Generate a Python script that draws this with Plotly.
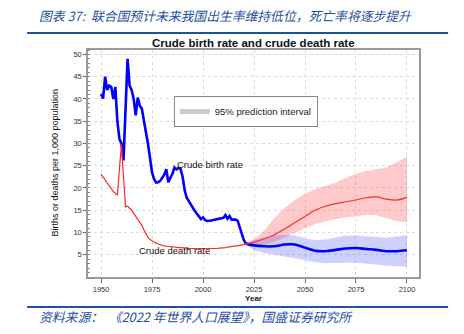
import plotly.graph_objects as go

# ---------------- data ----------------
hist_years = list(range(1950, 2022))
birth_hist = [41.1, 40.1, 45.0, 42.0, 43.0, 42.7, 40.0, 42.7, 35.0, 31.0,
              30.0, 26.2, 37.6, 49.0, 43.0, 42.0, 40.0, 36.3, 40.3, 38.5,
              37.8, 34.8, 32.5, 30.0, 27.0, 23.5, 22.0, 21.2, 21.3, 21.6,
              22.3, 23.0, 24.2, 21.3, 22.3, 23.2, 24.6, 24.2, 24.5, 24.3,
              22.5, 19.5, 17.8, 17.0, 16.2, 15.5, 14.8, 14.2, 13.5, 13.0,
              13.4, 12.8, 12.6, 12.6, 12.7, 12.8, 12.9, 13.0, 13.1, 13.1,
              13.3, 13.9, 13.1, 13.7, 12.9, 12.9, 12.9, 12.6, 11.0, 9.6,
              8.3, 7.5]
death_hist = [23.1, 22.4, 21.7, 21.1, 20.5, 19.8, 19.2, 18.8, 18.4, 24.2,
              29.8, 22.5, 15.8, 15.9, 15.5, 15.0, 14.3, 13.6, 12.9, 12.4,
              11.6, 10.6, 9.7, 8.9, 8.4, 8.1, 7.8, 7.6, 7.4, 7.2,
              7.1, 7.0, 6.9, 6.9, 6.8, 6.8, 6.7, 6.7, 6.6, 6.6,
              6.6, 6.5, 6.5, 6.4, 6.4, 6.4, 6.3, 6.3, 6.3, 6.3,
              6.3, 6.3, 6.3, 6.3, 6.3, 6.3, 6.4, 6.4, 6.5, 6.5,
              6.6, 6.6, 6.7, 6.8, 6.8, 6.9, 7.0, 7.0, 7.1, 7.2,
              7.3, 7.4]

proj_years = [2021, 2025, 2030, 2035, 2040, 2045, 2050, 2055, 2060, 2065,
              2070, 2075, 2080, 2085, 2090, 2095, 2100]
birth_med = [7.5, 7.1, 6.9, 6.9, 7.3, 7.3, 6.6, 5.9, 5.8, 6.1,
             6.4, 6.5, 6.3, 6.1, 5.8, 5.8, 6.0]
birth_hi = [7.6, 8.3, 8.8, 9.3, 9.5, 9.3, 8.7, 8.3, 8.4, 8.9,
            9.3, 9.3, 9.1, 8.9, 8.8, 9.1, 9.4]
birth_lo = [7.4, 6.0, 5.4, 5.0, 4.6, 4.2, 3.8, 3.3, 3.1, 3.2,
            3.2, 3.2, 3.0, 2.8, 2.5, 2.4, 2.3]
death_med = [7.4, 7.8, 8.6, 9.5, 10.8, 12.2, 13.6, 15.0, 15.9, 16.5,
             16.9, 17.3, 17.8, 18.0, 17.5, 17.3, 17.9]
death_hi = [7.5, 8.5, 10.5, 13.2, 15.5, 17.3, 18.7, 19.7, 20.5, 21.2,
            22.3, 23.2, 23.8, 24.2, 24.6, 25.8, 27.0]
death_lo = [7.3, 7.2, 7.3, 7.9, 8.9, 10.0, 10.9, 11.9, 12.5, 13.0,
            13.4, 13.6, 14.0, 13.9, 13.2, 12.6, 12.3]

title = "Crude birth rate and crude death rate"
header = "图表 37:  联合国预计未来我国出生率维持低位，死亡率将逐步提升"
footer = "资料来源：  《2022 年世界人口展望》，国盛证券研究所"

# ---------------- figure ----------------
BLUE = "#0000FF"
RED = "#FF2A2A"
HEAD = "#1E4FA0"
FONT = "Liberation Sans, Arial, sans-serif"
CJK = "Noto Sans CJK SC, sans-serif"

fig = go.Figure()

# red band
fig.add_trace(go.Scatter(x=proj_years + proj_years[::-1], y=death_hi + death_lo[::-1],
                         fill="toself", fillcolor="rgba(255,60,60,0.27)",
                         line=dict(width=0), mode="lines", showlegend=False,
                         hoverinfo="skip"))
# blue band
fig.add_trace(go.Scatter(x=proj_years + proj_years[::-1], y=birth_hi + birth_lo[::-1],
                         fill="toself", fillcolor="rgba(40,40,255,0.22)",
                         line=dict(width=0), mode="lines", showlegend=False,
                         hoverinfo="skip"))
# birth
fig.add_trace(go.Scatter(x=hist_years, y=birth_hist, mode="lines",
                         line=dict(color=BLUE, width=2.6), showlegend=False))
fig.add_trace(go.Scatter(x=proj_years, y=birth_med, mode="lines",
                         line=dict(color=BLUE, width=2.6, shape="spline"),
                         showlegend=False))
# death
fig.add_trace(go.Scatter(x=hist_years, y=death_hist, mode="lines",
                         line=dict(color=RED, width=1.2), showlegend=False))
fig.add_trace(go.Scatter(x=proj_years, y=death_med, mode="lines",
                         line=dict(color=RED, width=1.2, shape="spline"),
                         showlegend=False))
# legend item
fig.add_trace(go.Scatter(x=[None], y=[None], mode="lines",
                         line=dict(color="#cccccc", width=5),
                         name="95% prediction interval", showlegend=True))

fig.update_layout(
    width=464, height=334,
    margin=dict(l=88, r=45, t=50, b=57),
    paper_bgcolor="white", plot_bgcolor="white",
    font=dict(family=FONT, color="#333333", size=8),
    legend=dict(x=0.259, y=0.797, xanchor="left", yanchor="top",
                bordercolor="#888888", borderwidth=1, bgcolor="white",
                font=dict(size=9.5, color="#222222"), itemwidth=30,
                tracegroupgap=0),
    showlegend=True,
)

fig.update_xaxes(range=[1943.6, 2105.9], tickvals=[1950, 1975, 2000, 2025, 2050, 2075, 2100],
                 ticks="outside", ticklen=4, tickcolor="#666666",
                 tickfont=dict(size=7.5, color="#333333"),
                 showgrid=True, gridcolor="#dddddd", griddash="dot", gridwidth=1,
                 showline=True, linecolor="#999999", linewidth=1.5, mirror=True,
                 zeroline=False,
                 title=dict(text="<b>Year</b>", font=dict(size=8, color="#222222"), standoff=2))
fig.update_yaxes(range=[0, 51], tickvals=[5, 10, 15, 20, 25, 30, 35, 40, 45, 50],
                 ticks="outside", ticklen=3, tickcolor="#666666",
                 tickfont=dict(size=7.5, color="#333333"),
                 minor=dict(dtick=1, ticks="inside", ticklen=2, tickcolor="#888888", showgrid=False),
                 showgrid=True, gridcolor="#dddddd", griddash="dot", gridwidth=1,
                 showline=True, linecolor="#999999", linewidth=1.5, mirror=True,
                 zeroline=False)

ann = [
    dict(text="<b>" + title + "</b>", x=0.5015, y=1.031, xref="paper", yref="paper",
         xanchor="center", yanchor="middle", showarrow=False,
         font=dict(size=11.5, color="#111111", family=FONT)),
    dict(text="Births or deaths per 1,000 population", x=-0.0997, y=0.504,
         xref="paper", yref="paper", textangle=-90, xanchor="center", yanchor="middle",
         showarrow=False, font=dict(size=9, color="#111111", family=FONT)),
    dict(text="Crude birth rate", x=1986.3, y=25.2, xref="x", yref="y",
         xanchor="left", yanchor="middle", showarrow=False,
         font=dict(size=9.5, color="#111111", family=FONT)),
    dict(text="Crude death rate", x=1967.6, y=5.9, xref="x", yref="y",
         xanchor="left", yanchor="middle", showarrow=False,
         font=dict(size=9.5, color="#111111", family=FONT)),
    dict(text="<i>" + header + "</i>", x=-0.154, y=1.154, xref="paper", yref="paper",
         xanchor="left", yanchor="middle", showarrow=False,
         font=dict(size=12.8, color=HEAD, family=CJK)),
    dict(text="<i>" + footer + "</i>", x=-0.154, y=-0.172, xref="paper", yref="paper",
         xanchor="left", yanchor="middle", showarrow=False,
         font=dict(size=12.8, color=HEAD, family=CJK)),
]
fig.update_layout(annotations=ann)

fig.update_layout(shapes=[
    dict(type="line", xref="paper", yref="paper", x0=-0.184, x1=1.088, y0=1.075, y1=1.075,
         line=dict(color=HEAD, width=2)),
    dict(type="line", xref="paper", yref="paper", x0=-0.184, x1=1.088, y0=-0.132, y1=-0.132,
         line=dict(color=HEAD, width=2)),
])

fig.write_html("out.html")
